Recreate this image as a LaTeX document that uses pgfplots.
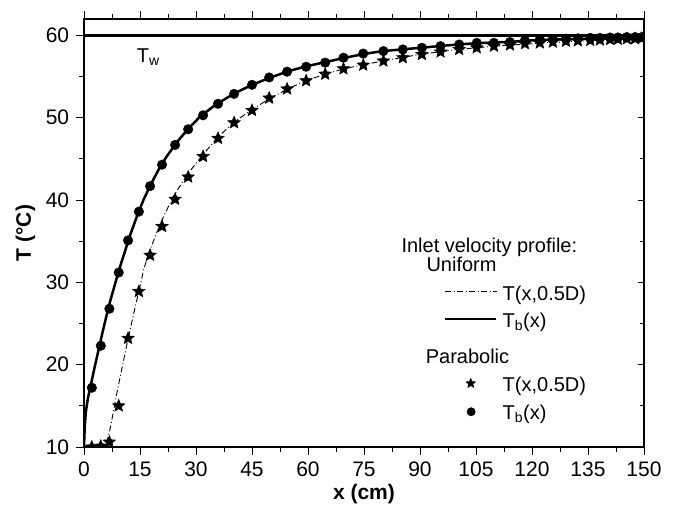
\documentclass[border=0pt]{standalone}
\usepackage{fontspec}
\setmainfont{Liberation Sans}
\usepackage{pgfplots}
\pgfplotsset{compat=1.18}
\usetikzlibrary{plotmarks}
\pgfdeclareplotmark{fstar}{%
  \pgfpathmoveto{\pgfpointpolar{90}{\pgfplotmarksize}}%
  \pgfpathlineto{\pgfpointpolar{126}{0.45\pgfplotmarksize}}%
  \pgfpathlineto{\pgfpointpolar{162}{\pgfplotmarksize}}%
  \pgfpathlineto{\pgfpointpolar{198}{0.45\pgfplotmarksize}}%
  \pgfpathlineto{\pgfpointpolar{234}{\pgfplotmarksize}}%
  \pgfpathlineto{\pgfpointpolar{270}{0.45\pgfplotmarksize}}%
  \pgfpathlineto{\pgfpointpolar{306}{\pgfplotmarksize}}%
  \pgfpathlineto{\pgfpointpolar{342}{0.45\pgfplotmarksize}}%
  \pgfpathlineto{\pgfpointpolar{18}{\pgfplotmarksize}}%
  \pgfpathlineto{\pgfpointpolar{54}{0.45\pgfplotmarksize}}%
  \pgfpathclose
  \pgfusepathqfillstroke
}
\begin{document}
\fontsize{20bp}{24bp}\selectfont
\begin{tikzpicture}
\path[use as bounding box] (-84bp,-65bp) rectangle (593bp,447bp);
\begin{axis}[
  at={(0,0)}, anchor=south west,
  scale only axis, width=560bp, height=428bp,
  xmin=0, xmax=150, ymin=10, ymax=62,
  xtick={0,15,...,150}, ytick={10,20,...,60},
  minor xtick={7.5,22.5,...,142.5}, minor ytick={15,25,...,55},
  xtick pos=both, ytick pos=left,
  tick align=outside,
  major tick length=8bp, minor tick length=5bp,
  every tick/.style={black, line width=0.9bp},
  axis line style={line width=1.2bp},
  /pgf/number format/assume math mode=true,
  ticklabel style={font=\fontsize{21bp}{24bp}\selectfont},
  xticklabel pos=bottom,
  xlabel={\textbf{x (cm)}},
  ylabel={\textbf{T (°C)}},
  label style={font=\fontsize{21bp}{24bp}\selectfont},
  xlabel style={yshift=6bp},
  ylabel style={yshift=-3bp},
  clip marker paths=true,
]
% wall temperature
\addplot[black, line width=2.5bp] coordinates {(0,60) (150,60)};
% uniform: T(x,0.5D)
\addplot[black, line width=0.9bp, dash pattern=on 6bp off 2.5bp on 1bp off 2.5bp] coordinates {
(0,10)(3,10)(5,10.1)(6,10.4)(7,12.2)(8,14.6)(9,17.0)(10,19.2)(11,21.4)(12,23.5)(13.5,26.6)(15,29.5)(16,31.6)(17,33.0)(18,34.3)(19,35.5)(21,37.7)(24,40.5)(28,43.3)(32,45.6)(36,47.7)(40,49.4)(45,51.0)(50,52.4)(55,53.6)(60,54.6)(65,55.35)(70,56.0)(75,56.45)(80,56.9)(85,57.3)(90,57.7)(95,58.0)(100,58.3)(105,58.5)(110,58.7)(115,58.85)(120,59.0)(125,59.15)(130,59.25)(135,59.35)(140,59.45)(145,59.5)(150,59.6)};
% uniform: Tb(x)
\addplot[black, line width=2.5bp] coordinates {
(0,10)(0.2,12.5)(0.5,14.3)(1,15.8)(1.5,16.9)(2,17.9)(3,20.0)(4,22.0)(5,24.0)(6,25.9)(7,27.7)(8,29.3)(9,30.9)(10,32.4)(11,33.8)(12,35.3)(14,37.8)(16,40.1)(18,42.0)(20,43.7)(22,45.2)(25,47.1)(28,48.7)(31,50.1)(35,51.5)(40,52.9)(45,54.0)(50,54.9)(55,55.7)(60,56.3)(65,56.8)(70,57.3)(75,57.75)(80,58.1)(85,58.3)(90,58.5)(95,58.7)(100,58.9)(105,59.05)(110,59.15)(115,59.25)(120,59.4)(125,59.5)(130,59.55)(135,59.6)(140,59.65)(145,59.7)(150,59.75)};
% parabolic: T(x,0.5D)
\addplot[only marks, mark=fstar, mark size=6.5bp, fill=black, draw=black, line width=0.5bp] coordinates {
(2.1,10.0)(4.5,10.1)(6.8,10.6)(9.3,15.0)(11.8,23.2)(14.7,28.9)(17.7,33.3)(20.9,36.8)(24.4,40.1)(27.9,42.8)(31.9,45.3)(35.9,47.5)(40.2,49.4)(45.0,50.9)(49.6,52.4)(54.4,53.5)(59.5,54.5)(64.6,55.3)(69.5,55.95)(74.8,56.4)(80.2,56.9)(85.4,57.3)(90.5,57.7)(95.5,58.0)(100.5,58.3)(105.2,58.5)(109.8,58.7)(114.1,58.85)(118.1,59.0)(122.1,59.1)(125.6,59.2)(129.1,59.3)(132.3,59.35)(135.6,59.4)(138.2,59.45)(140.9,59.5)(143.0,59.55)(145.4,59.6)(147.6,59.6)(149.4,59.65)};
% parabolic: Tb(x)
\addplot[only marks, mark=*, mark size=4.8bp, fill=black, draw=black] coordinates {
(2.1,17.2)(4.5,22.3)(6.8,26.8)(9.3,31.2)(11.8,35.1)(14.7,38.6)(17.7,41.7)(20.9,44.3)(24.4,46.7)(27.9,48.6)(31.9,50.3)(35.9,51.7)(40.2,52.9)(45.0,54.0)(49.6,54.9)(54.4,55.6)(59.5,56.2)(64.6,56.7)(69.5,57.3)(74.8,57.8)(80.2,58.1)(85.4,58.3)(90.5,58.5)(95.5,58.7)(100.5,58.9)(105.2,59.1)(109.8,59.1)(114.1,59.2)(118.1,59.4)(122.1,59.5)(125.6,59.55)(129.1,59.6)(132.3,59.65)(135.6,59.7)(138.2,59.7)(140.9,59.75)(143.0,59.75)(145.4,59.8)(147.6,59.8)(149.4,59.8)};
% legend samples
\addplot[black, line width=0.9bp, dash pattern=on 6bp off 2.5bp on 1bp off 2.5bp] coordinates {(96.7,28.85)(110.6,28.85)};
\addplot[black, line width=2.5bp] coordinates {(96.7,25.53)(110.4,25.53)};
\addplot[only marks, mark=fstar, mark size=5bp, fill=black, draw=black, line width=0.5bp] coordinates {(103.6,17.73)};
\addplot[only marks, mark=*, mark size=4.2bp, fill=black, draw=black] coordinates {(103.7,14.28)};
% texts
\node[anchor=base west, inner sep=0pt] at (axis cs:14.1,56.76) {T\textsubscript{w}};
\node[anchor=base west, inner sep=0pt] at (axis cs:85.0,33.63) {Inlet velocity profile:};
\node[anchor=base west, inner sep=0pt] at (axis cs:91.7,31.27) {Uniform};
\node[anchor=base west, inner sep=0pt] at (axis cs:112.1,27.84) {T(x,0.5D)};
\node[anchor=base west, inner sep=0pt] at (axis cs:112.1,24.53) {T\textsubscript{b}(x)};
\node[anchor=base west, inner sep=0pt] at (axis cs:91.5,20.16) {Parabolic};
\node[anchor=base west, inner sep=0pt] at (axis cs:112.1,16.71) {T(x,0.5D)};
\node[anchor=base west, inner sep=0pt] at (axis cs:112.1,13.36) {T\textsubscript{b}(x)};
\end{axis}
\begin{axis}[
  at={(0,0)}, anchor=south west,
  scale only axis, width=560bp, height=428bp,
  xmin=0, xmax=150, ymin=10, ymax=62,
  axis x line=none, axis y line*=right,
  ytick={10,20,...,60}, minor ytick={15,25,...,55},
  tick align=inside, yticklabels={},
  major tick length=6bp, minor tick length=4bp,
  every tick/.style={black, line width=0.9bp},
  axis line style={line width=1.2bp},
]
\addplot[draw=none] coordinates {(0,10)};
\end{axis}
\end{tikzpicture}
\end{document}
